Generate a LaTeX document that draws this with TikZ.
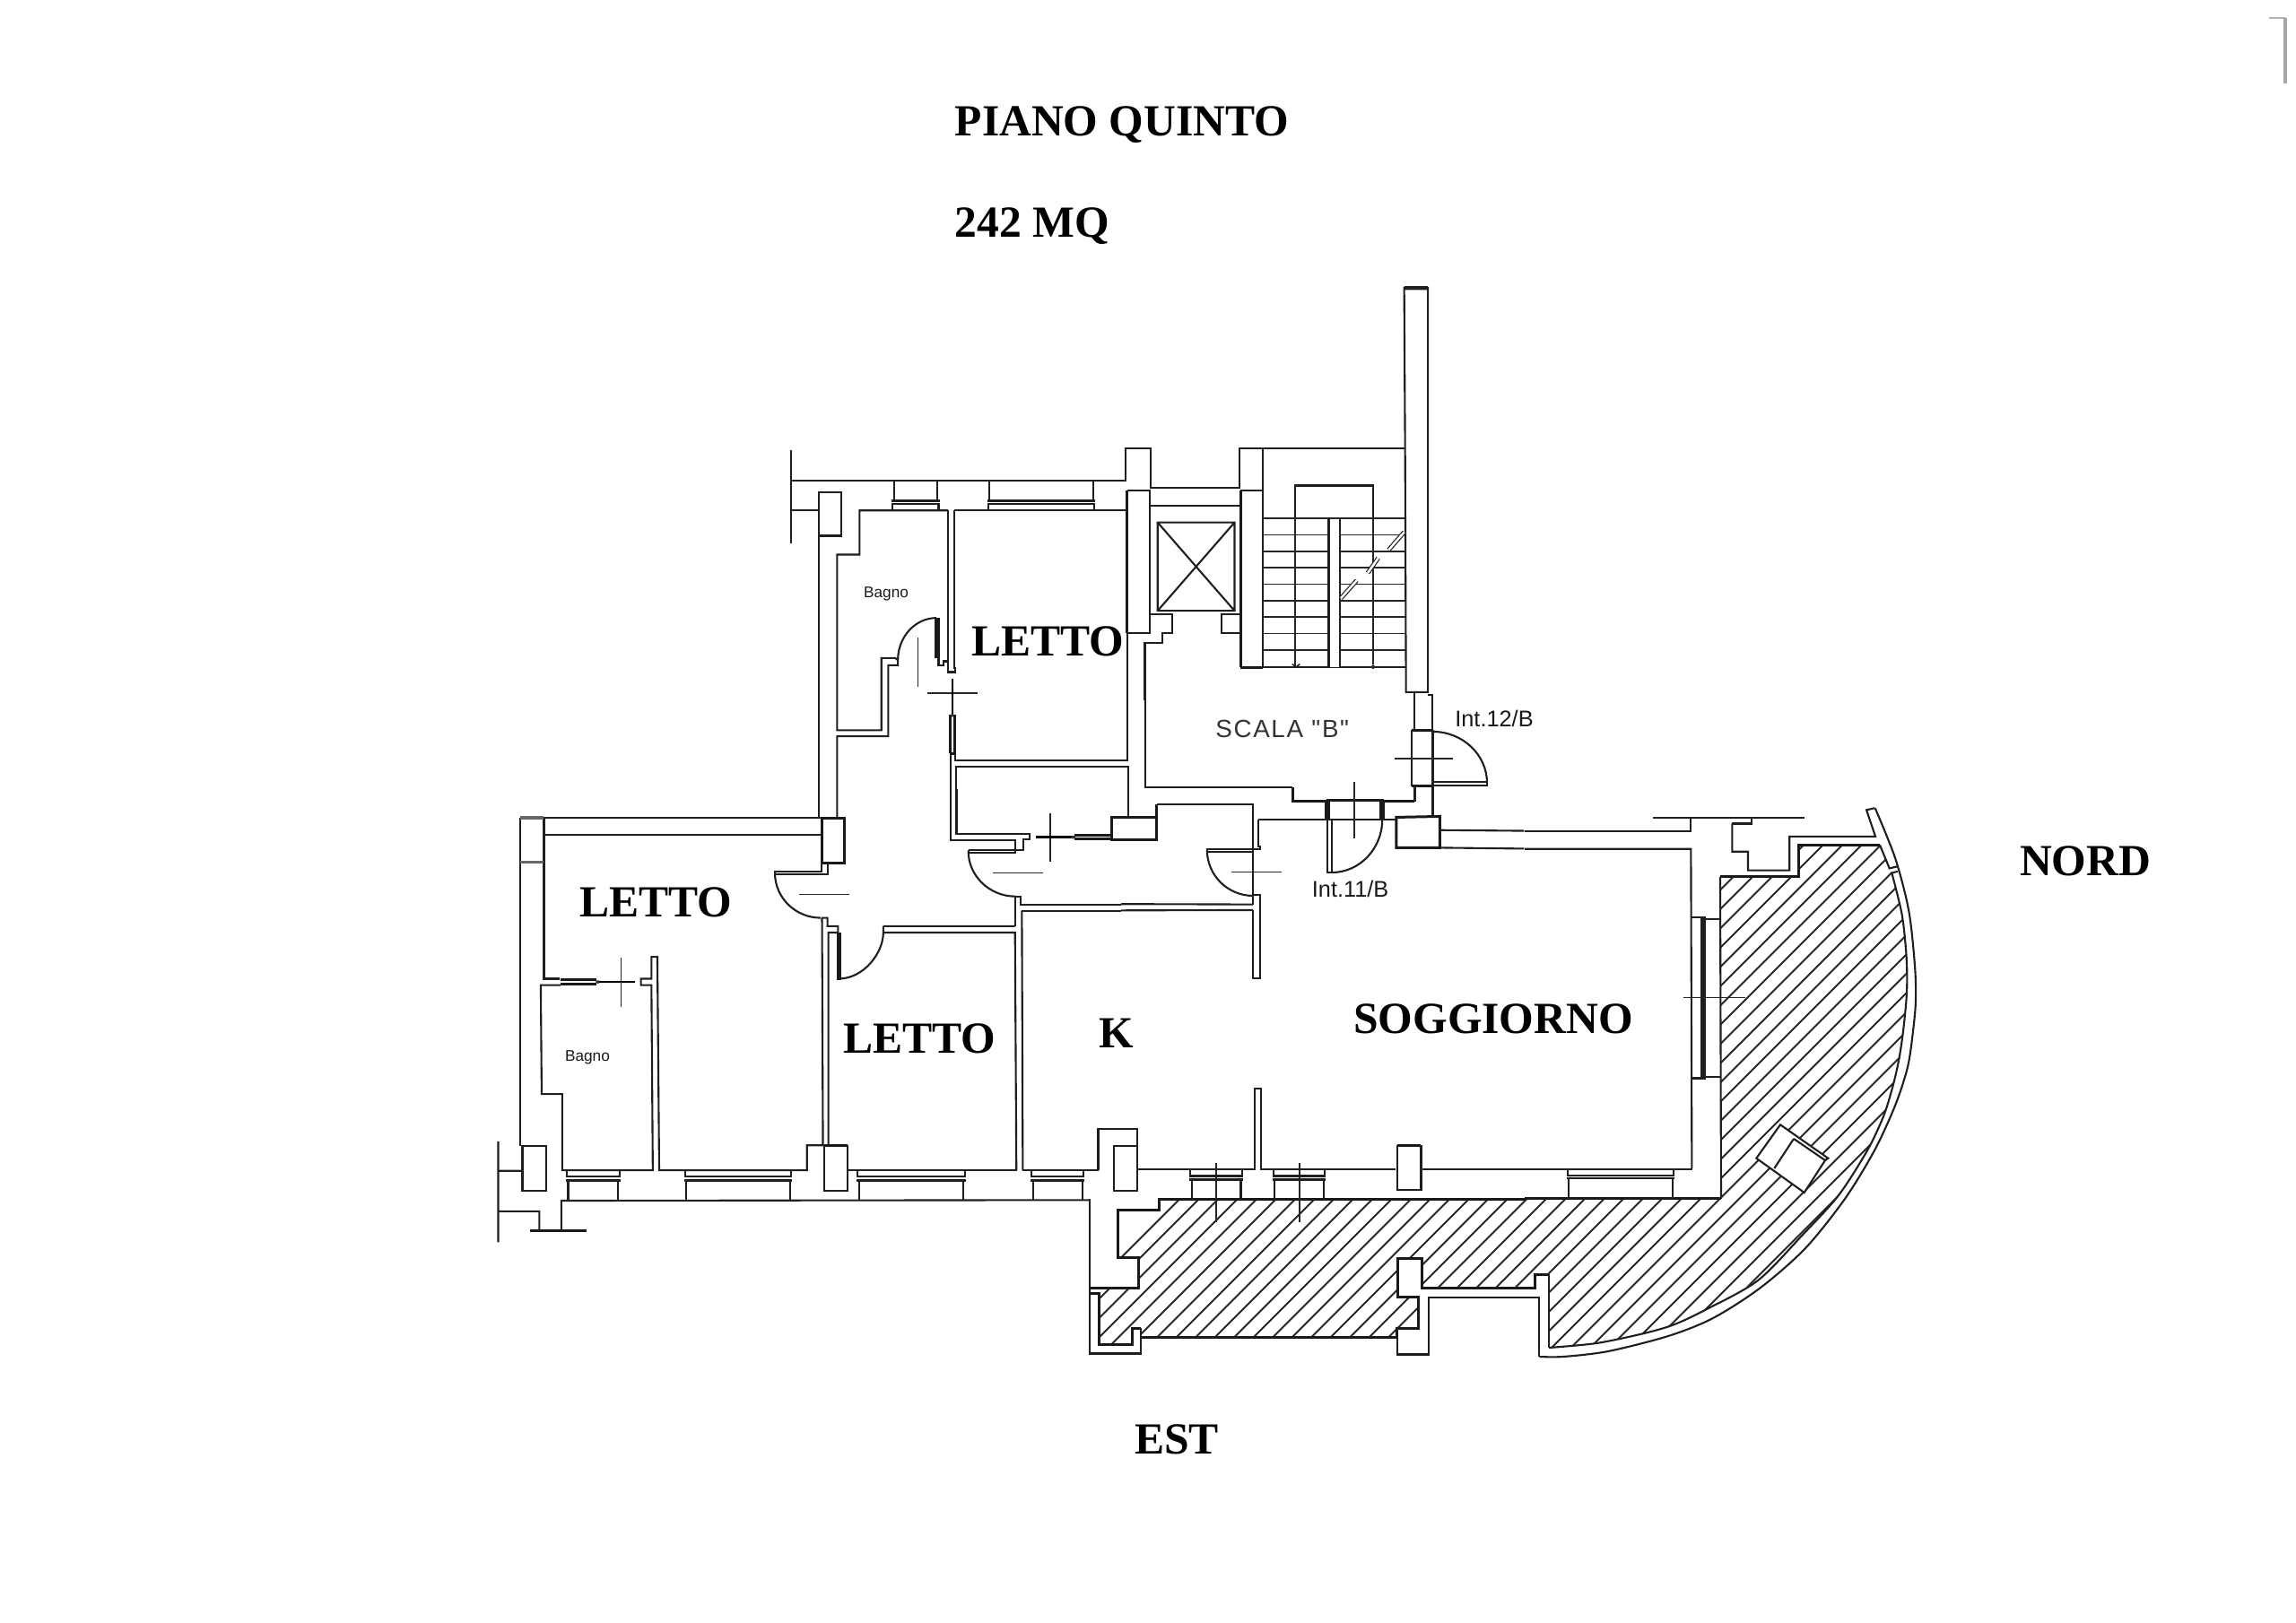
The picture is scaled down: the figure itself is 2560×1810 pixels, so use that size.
\documentclass[tikz,border=0pt]{standalone}
\usepackage{fontspec}
\setmainfont{Liberation Serif}
\newfontfamily\sansf{Liberation Sans}
\newcommand{\wndw}[9]{\draw[wall] (#1,#8)--(#2,#8) (#1,#9)--(#2,#9) (#3,#7)--(#3,#8) (#4,#7)--(#4,#8);\wndwlow{#5}{#6}{#9}}
\newcommand{\wndwlow}[4]{\draw[wall] (#1,#3)--(#1,#4) (#2,#3)--(#2,#4);}
\tikzset{
 wall/.style={draw=black!88,line width=0.6pt,line join=miter},
 heavy/.style={draw=black!90,line width=0.85pt},
 fine/.style={draw=black!85,line width=0.45pt},
 breakmark/.style={draw=black!85,line width=0.35pt,double=white,double distance=0.7pt},
 big/.style={font=\fontsize{14.1}{16}\selectfont\bfseries,text=black,inner sep=0pt},
 small/.style={font=\sansf\fontsize{7.2}{9}\selectfont,text=black!90,inner sep=0pt},
 tiny/.style={font=\sansf\fontsize{4.9}{6}\selectfont,text=black!90,inner sep=0pt},
 zA/.style={shift={(840,300)},x=.005102cm,y=-.004464cm},
 zB/.style={shift={(530,880)},x=.005102cm,y=-.003571cm},
 zC/.style={shift={(1100,1200)},x=.005102cm,y=-.003333cm},
 zD/.style={shift={(1700,860)},x=.003333cm,y=-.004337cm},
 zE/.style={shift={(1250,780)},x=.003333cm,y=-.003333cm},
}
\begin{document}
\begin{tikzpicture}[x=.01cm,y=-.01cm]
\useasboundingbox (0,0) rectangle (2560,1810);
% ---------- hatching
\begin{scope}
\clip (1246.9,1350)--(1292.9,1350)--(1292.9,1337.7)--(1918.3,1337.7)--(1918.3,978)--(2005.7,978)--(2005.7,942.4)--(2096.7,942.4)--(2107.3,968.4)--(2109.3,973.6)
 --(2120.7,1020.4)--(2125.7,1068.2)--(2126,1107.2)--(2122,1150)--(2117,1183)--(2110,1213)--(2100,1245)--(2082,1283)--(2050,1333)--(2010,1377)--(1960,1428)--(1903,1460)--(1867,1477)--(1833,1487)--(1780,1498)--(1727,1503)
 --(1726.7,1421.6)--(1712,1421.6)--(1712,1437.3)--(1586.2,1437.3)--(1586.2,1403.3)--(1559.2,1403.3)--(1559.2,1446.7)--(1582.1,1446.7)--(1582.1,1481.7)--(1558.2,1481.7)--(1558.2,1492.3)--(1272.4,1492.3)--(1272.4,1481.7)--(1262.2,1481.7)--(1262.2,1500)--(1226,1500)--(1226,1437.3)--(1269.9,1437.3)--(1269.9,1402.7)--(1246.9,1402.7)--cycle;
\foreach \k in {-1,...,34}{
 \pgfmathsetmacro\hc{2674+21.5*\k}
 \draw[fine,line width=0.55pt] ({\hc-900},900)--({\hc-1550},1550);
}
\end{scope}
% ---------- zone A: upper part
\begin{scope}[zA]
\draw[wall] (82,452)--(82,685);
\draw[wall] (82,527)--(813,527)--(813,447)--(868,447)--(868,546)--(1063,546)--(1063,447)--(1113,447) (1113,447)--(1423,447);
\draw[wall] (1113,447)--(1113,553) (82,602)--(143,602);
\draw[wall] (143,556)--(192,556)--(192,665)--(143,665)--cycle;
\draw[wall] (143,665)--(143,1370);
\draw[wall] (426,602)--(232,602)--(232,712)--(183,712)--(183,1150)--(280,1150)--(280,970)--(310,970)--(316,975)--(316,988)--(295,988)--(295,1165)--(183,1165)--(183,1370);
\draw[wall] (426,602)--(426,985)--(426,1005)--(442,1005)--(442,995)--(440,995)--(440,602);
\draw[heavy] (400,870)--(400,970) (405,870)--(405,970);
\draw[wall] (405,970)--(405,988)--(416,988)--(416,978)--(426,978);
\draw[wall] (400,870) .. controls (354,870) and (316,917) .. (316,975);
\draw[fine] (360,918)--(360,1042) (380,1058)--(491,1058);
\wndw{302}{408}{304}{405}{307}{402}{600}{585}{578}{527}
\wndw{511}{748}{513}{746}{516}{744}{600}{585}{578}{527}
\draw[wall] (440,602)--(817,602);
\draw[heavy] (817,553)--(817,907);
\draw[wall] (817,553)--(867,553)--(867,907)--(817,907);
\draw[wall] (817,907)--(817,1225)--(442,1225)--(442,1208);
\draw[wall] (444,1299)--(444,1240)--(819,1240)--(819,1299);
\draw[wall] (432,1208)--(432,1299);
\draw[line width=0.7pt,draw=black] (435,1022)--(435,1110);
\draw[heavy] (431,1110)--(431,1208) (440,1110)--(440,1208) (431,1208)--(440,1208);
\fill[black!80] (435,1113) circle (4);
\draw[wall] (868,590)--(1065,590);
\draw[wall] (884,632)--(1052,632)--(1052,852)--(884,852)--cycle (884,632)--(1052,852) (1052,632)--(884,852);
\draw[heavy] (1065,553)--(1065,993);
\draw[wall] (1065,553)--(1113,553)--(1113,993);
\draw[heavy] (1065,993)--(1113,993);
\draw[wall] (868,860)--(915,860)--(915,907)--(895,907)--(895,933)--(856,933)--(856,1075);
\draw[wall] (1065,860)--(1023,860)--(1023,907)--(1065,907);
\foreach \y in {622,663,704,745,786,827,868,909,950}{\draw[fine] (1113,\y)--(1425,\y);}
\draw[wall] (1113,993)--(1425,993);
\fill[white] (1258,626) rectangle (1282,992);
\draw[wall] (1258,622)--(1258,993) (1282,622)--(1282,993);
\draw[wall] (1185,622)--(1185,540)--(1355,540)--(1355,622);
\draw[fine] (1185,622)--(1185,990) (1355,622)--(1355,985);
\draw[fine] (1178,985)--(1187,992)--(1195,985);
\draw[fine,fill=white] (1355,992) circle (3.5);
\draw[wall] (1423,45)--(1475,45) (1423,50)--(1475,50) (1423,45)--(1425,447)--(1427,1055)--(1475,1055)--(1475,45);
\draw[wall] (1445,1055)--(1445,1075) (1475,1062)--(1485,1062)--(1485,1075);
\end{scope}
% stair break marks
\draw[breakmark] (1565.7,593.3)--(1548.3,613.3);
\draw[breakmark] (1536.7,622.3)--(1525,639);
\draw[breakmark] (1512.7,647.3)--(1495,667.3);
% ---------- zone E: stair landing and doors
\begin{scope}[zE]
\draw[wall] (80,0)--(80,295)--(575,295);
\draw[heavy] (575,295)--(575,342)--(687,342);
\draw[heavy] (880,342)--(984,342);
\draw[wall] (984,342)--(984,290) (982,0)--(982,103) (1042,0)--(1042,103);
\draw[heavy] (974,103)--(1044,103) (974,290)--(1044,290);
\draw[wall] (974,103)--(974,290) (1044,103)--(1044,392);
\draw[wall] (1044,108) .. controls (1144,108) and (1226,185) .. (1226,280);
\draw[wall] (1044,276)--(1226,276)--(1226,288)--(1044,288);
\draw[fine] (915,198)--(1112,198);
\draw[heavy] (687,337)--(880,337) (687,337)--(687,403) (695,337)--(695,403) (880,337)--(880,403) (870,337)--(870,403);
\draw[wall] (460,402)--(918,402);
\draw[fine] (782,277)--(782,465);
\draw[wall] (692,403)--(692,580)--(706,580)--(706,403);
\draw[wall] (706,580) .. controls (799,580) and (875,500) .. (875,403);
\draw[heavy] (922,395)--(1068,392)--(1068,497)--(922,497)--cycle;
\draw[wall] (1068,438)--(1350,440.4) (1068,497)--(1350,500.1);
\draw[wall] (442,505)--(442,352)--(120,352)--(120,352);
\draw[wall] (460,402)--(460,492)--(466,492)--(466,503)--(442,503)--(288,503)--(288,511)--(442,511);
\draw[wall] (288,505) .. controls (288,589) and (357,658) .. (442,658);
\draw[fine] (370,578)--(538,578);
\draw[wall] (442,505)--(442,687) (442,655)--(466,655)--(466,935)--(442,935)--(442,706);
\draw[wall] (0,685.7)--(442,687) (0,707.1)--(442,706);
\node[small] (int12) at (1250,65) {Int.12/B};
\node[small] (int11) at (768,634) {Int.11/B};
\node[font=\sansf\fontsize{7.9}{9}\selectfont\addfontfeature{LetterSpace=6},text=black!80,inner sep=0pt] (scala) at (540,100) {SCALA "B"};
\end{scope}
% ---------- zone B: west part
\begin{scope}[zB]
\draw[wall] (1052,0)--(1052,140)--(1212,140)--(1212,158)--(1198,158)--(1198,190)--(1180,190)--(1180,160)--(1040,160)--(1040,0);
\draw[wall] (1078,190)--(1180,190) (1078,198)--(1180,198)--(1180,190) (1078,190)--(1078,198);
\draw[wall] (1078,195) .. controls (1078,270) and (1124,335) .. (1180,335);
\draw[fine] (1132,262)--(1242,262) (1257,75)--(1257,228);
\draw[line width=0.7pt,draw=black] (1225,150)--(1305,150);
\fill[black!80] (1307,150) circle (5);
\draw[heavy] (1310,145)--(1390,145) (1310,155)--(1390,155);
\draw[wall] (1428,0)--(1428,88);
\draw[heavy] (1392,88)--(1490,88)--(1490,158)--(1392,158)--cycle;
\draw[heavy] (1490,88)--(1490,47);
% west bedroom
\draw[wall] (98,90)--(757,90) (98,90)--(98,1115) (150,90)--(150,592)--(185,592);
\draw[line width=1pt,draw=black!60] (98,90)--(150,90) (98,228)--(150,228);
\draw[wall] (150,143)--(757,143);
\draw[heavy] (757,90)--(806,90)--(806,230)--(757,230)--cycle;
\draw[wall] (757,230)--(757,258)--(655,258)--(655,265)--(770,265)--(770,230);
\draw[wall] (655,262) .. controls (655,339) and (700,402) .. (755,402);
\draw[fine] (708,329)--(818,329);
\draw[wall] (757,402)--(770,402)--(770,428)--(793,428)--(793,448)--(772,448)--(772,1112) (758,402)--(760,1112);
\draw[heavy] (793,448)--(793,592)--(798,592)--(798,448);
\draw[wall] (795,592) .. controls (848,592) and (892,513) .. (892,448);
\draw[wall] (892,428)--(892,450) (892,428)--(1180,428) (892,448)--(1180,448)--(1183,1190) (1195,380)--(1197,1190);
\draw[wall] (1180,428)--(1180,335)--(1192,335)--(1192,360)--(1411,360) (1195,380)--(1411,380);
% bath 2
\draw[heavy] (187,595)--(265,595) (187,610)--(265,610);
\fill[black!80] (268,602) circle (5);
\draw[line width=0.7pt,draw=black] (270,602)--(350,602);
\draw[fine] (319,526)--(319,680);
\draw[wall] (186,612)--(143,612)--(145,952)--(190,952)--(190,1190)--(388,1190)--(385,612)--(362,612)--(362,592)--(385,592)--(385,524)--(398,524)--(402,1190)--(725,1190)--(725,1112)--(762,1112);
\draw[heavy] (762,1112)--(813,1112);
\draw[wall] (762,1112)--(762,1253)--(813,1253)--(813,1112);
\draw[wall] (813,1190)--(1185,1190);
\draw[wall] (1197,1190)--(1362,1190);
\draw[wall] (1362,1190)--(1362,1062)--(1447,1062)--(1447,1190);
\draw[wall] (1397,1115)--(1447,1115)--(1447,1253)--(1397,1253)--cycle;
\draw[wall] (103,1115)--(155,1115)--(155,1253)--(103,1253)--cycle;
\draw[wall] (50,1100)--(50,1415) (50,1192)--(103,1192) (50,1318)--(140,1318)--(140,1380) (188,1380)--(188,1285)--(1343,1283);
\draw[heavy] (120,1380)--(243,1380);
\wndw{198}{317}{200}{315}{203}{312}{1192}{1210}{1222}{1284}
\wndw{456}{692}{458}{690}{461}{688}{1192}{1210}{1222}{1284}
\wndw{834}{1072}{836}{1070}{839}{1066}{1192}{1210}{1222}{1284}
\wndw{1214}{1332}{1216}{1330}{1219}{1327}{1192}{1210}{1222}{1284}
\node[tiny] (bagno2) at (245,838) {Bagno};
\end{scope}
\node[tiny] (bagno1) at (988,662) {Bagno};
% ---------- zone C: south part
\begin{scope}[zC]
\draw[wall] (330,313)--(587,313)--(587,42)--(600,42)--(600,313)--(895,313);
\draw[heavy] (898,232)--(950,232);
\draw[wall] (898,232)--(898,382)--(950,382)--(950,232);
\draw[wall] (950,312)--(1543,312);
\draw[wall] (225,413)--(225,930)--(338,930)--(338,845);
\draw[heavy] (338,877)--(898,877)--(898,845)--(945,845)--(945,740)--(900,740)--(900,610)--(953,610)--(953,712)--(1200,712)--(1200,665)--(1230,665);
\draw[wall] (1230,665)--(1230,910);
\draw[wall] (898,877)--(898,933)--(967,933)--(967,742)--(1208,742)--(1208,940);
\draw[heavy] (338,845)--(318,845)--(318,900)--(247,900)--(247,730)--(227,730);
\draw[heavy] (225,712)--(333,712)--(333,608)--(288,608)--(288,450)--(378,450)--(378,413)--(1176,413);
\draw[fine] (502,290)--(502,490) (684,290)--(684,490);
\wndw{444}{560}{446}{558}{449}{556}{313}{335}{347}{413}
\wndw{625}{742}{627}{740}{630}{737}{313}{335}{347}{413}
\end{scope}
% ---------- zone D: east part
\begin{scope}[zD]
\draw[wall] (0,154)--(557,154)--(557,120) (430,120)--(937,120) (695,135)--(760,135)--(760,120);
\draw[wall] (695,135)--(695,207)--(748,207)--(748,255)--(887,255)--(887,168)--(1175,168)--(1145,100)--(1172,95);
\draw[wall] (0,200)--(557,200)--(560,1022);
\draw[wall] (560,375)--(605,375)--(605,790)--(560,790) (592,375)--(592,790) (598,375)--(598,790) (605,380)--(655,380) (605,787)--(655,787);
\draw[fine] (533,582)--(738,582);
\draw[heavy] (0,1100)--(658,1100);
\draw[wall] (658,1100)--(655,272);
\draw[heavy] (655,272)--(917,272)--(917,190)--(1190,190);
\draw[wall] (1190,190)--(1222,250)--(1250,245) (1228,262)--(1250,258);
\wndw{140}{503}{143}{500}{148}{495}{1022}{1040}{1048}{1100}
\end{scope}
% curved balcony edge
\draw[wall] plot[smooth] coordinates {(2090.7,901.2) (2113.3,957.6) (2128.3,1016) (2135,1076.8) (2136,1115.8) (2133,1150) (2127,1190) (2113,1233) (2090,1283) (2057,1337) (2013,1392) (1963,1436) (1910,1470) (1860,1490) (1793,1507) (1743,1513) (1716.5,1513)};
\draw[wall] plot[smooth] coordinates {(2109.3,973.6) (2120.7,1020.4) (2125.7,1068.2) (2126,1107.2) (2122,1150) (2117,1183) (2110,1213) (2100,1245) (2082,1283) (2050,1333) (2010,1377) (1960,1428) (1903,1460) (1867,1477) (1833,1487) (1780,1498) (1727,1503)};
% object on the terrace
\draw[wall,fill=white] (1985,1254.3)--(2038.3,1291.7)--(2035,1294)--(2011.7,1330)--(1958.3,1291.7)--cycle;
\draw[wall] (2000,1270)--(1978.3,1303) (2000,1270)--(2035,1294);
% scan edge top right
\draw[draw=black!30,line width=0.4pt] (2530,20)--(2548,20);
\draw[draw=black!35,line width=1.1pt] (2548,20)--(2548,93);
% ---------- labels
\node[big] (title) at (1251,139) {PIANO QUINTO};
\node[big] (area) at (1151,252) {242 MQ};
\node[big] (l1) at (1168.5,715) {LETTO};
\node[big] (l2) at (731,1006) {LETTO};
\node[big] (l3) at (1025.5,1158.5) {LETTO};
\node[big] (k) at (1245,1152.5) {K};
\node[big] (sogg) at (1665,1136) {SOGGIORNO};
\node[big] (est) at (1312,1605) {EST};
\node[big] (nord) at (2325,960) {NORD};
\end{tikzpicture}
\end{document}
